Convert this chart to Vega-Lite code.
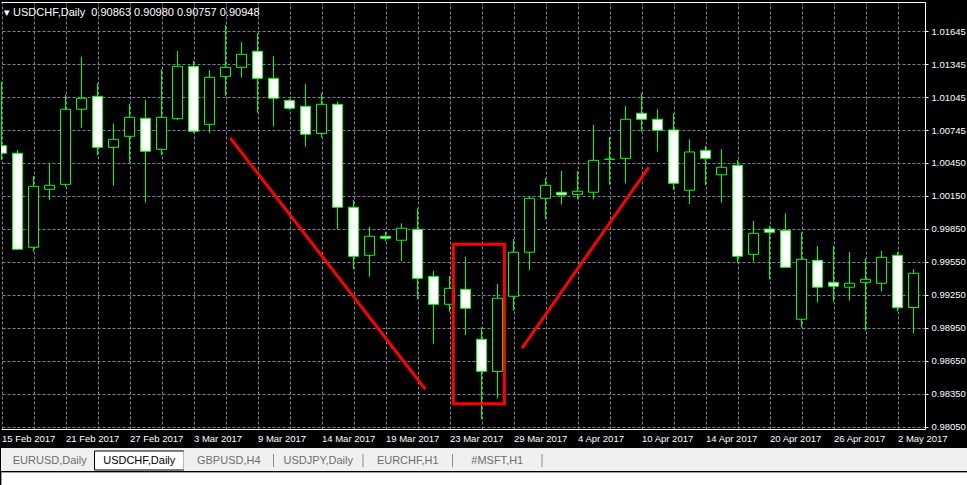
{
  "$schema": "https://vega.github.io/schema/vega-lite/v6.json",
  "background": "#000000",
  "padding": {"left": 0, "top": 2, "right": 0, "bottom": 0},
  "config": {"view": {"stroke": null}, "font": "Liberation Sans", "axis": {"labelOverlap": false}},
  "datasets": {
    "candles": [
      {"date": "2017-02-15", "open": 1.00603, "high": 1.01184, "low": 1.00473, "close": 1.00534},
      {"date": "2017-02-16", "open": 1.00534, "high": 1.00564, "low": 0.99655, "close": 0.99662},
      {"date": "2017-02-17", "open": 0.99680, "high": 1.00328, "low": 0.99640, "close": 1.00234},
      {"date": "2017-02-20", "open": 1.00207, "high": 1.00437, "low": 1.00110, "close": 1.00243},
      {"date": "2017-02-21", "open": 1.00252, "high": 1.01064, "low": 1.00230, "close": 1.00934},
      {"date": "2017-02-22", "open": 1.00934, "high": 1.01412, "low": 1.00766, "close": 1.01034},
      {"date": "2017-02-23", "open": 1.01052, "high": 1.01170, "low": 1.00518, "close": 1.00588},
      {"date": "2017-02-24", "open": 1.00588, "high": 1.00806, "low": 1.00240, "close": 1.00661},
      {"date": "2017-02-27", "open": 1.00688, "high": 1.00982, "low": 1.00449, "close": 1.00861},
      {"date": "2017-02-28", "open": 1.00852, "high": 1.01018, "low": 1.00085, "close": 1.00552},
      {"date": "2017-03-01", "open": 1.00570, "high": 1.01297, "low": 1.00516, "close": 1.00861},
      {"date": "2017-03-02", "open": 1.00848, "high": 1.01463, "low": 1.00836, "close": 1.01324},
      {"date": "2017-03-03", "open": 1.01324, "high": 1.01372, "low": 1.00718, "close": 1.00734},
      {"date": "2017-03-06", "open": 1.00797, "high": 1.01291, "low": 1.00721, "close": 1.01224},
      {"date": "2017-03-07", "open": 1.01233, "high": 1.01700, "low": 1.01054, "close": 1.01315},
      {"date": "2017-03-08", "open": 1.01315, "high": 1.01545, "low": 1.01221, "close": 1.01433},
      {"date": "2017-03-09", "open": 1.01461, "high": 1.01624, "low": 1.00903, "close": 1.01215},
      {"date": "2017-03-10", "open": 1.01215, "high": 1.01418, "low": 1.00776, "close": 1.01034},
      {"date": "2017-03-12", "open": 1.01015, "high": 1.01027, "low": 1.00927, "close": 1.00943},
      {"date": "2017-03-13", "open": 1.00961, "high": 1.01163, "low": 1.00594, "close": 1.00707},
      {"date": "2017-03-14", "open": 1.00714, "high": 1.01079, "low": 1.00679, "close": 1.00979},
      {"date": "2017-03-15", "open": 1.00979, "high": 1.01005, "low": 0.99846, "close": 1.00043},
      {"date": "2017-03-16", "open": 1.00043, "high": 1.00110, "low": 0.99480, "close": 0.99598},
      {"date": "2017-03-17", "open": 0.99607, "high": 0.99867, "low": 0.99413, "close": 0.99780},
      {"date": "2017-03-19", "open": 0.99780, "high": 0.99822, "low": 0.99737, "close": 0.99762},
      {"date": "2017-03-20", "open": 0.99744, "high": 0.99898, "low": 0.99555, "close": 0.99853},
      {"date": "2017-03-21", "open": 0.99843, "high": 1.00031, "low": 0.99207, "close": 0.99398},
      {"date": "2017-03-22", "open": 0.99416, "high": 0.99465, "low": 0.98804, "close": 0.99162},
      {"date": "2017-03-23", "open": 0.99162, "high": 0.99419, "low": 0.99095, "close": 0.99307},
      {"date": "2017-03-24", "open": 0.99298, "high": 0.99592, "low": 0.98883, "close": 0.99126},
      {"date": "2017-03-27", "open": 0.98844, "high": 0.98951, "low": 0.98117, "close": 0.98553},
      {"date": "2017-03-28", "open": 0.98552, "high": 0.99346, "low": 0.98308, "close": 0.99217},
      {"date": "2017-03-29", "open": 0.99235, "high": 0.99755, "low": 0.99104, "close": 0.99635},
      {"date": "2017-03-30", "open": 0.99635, "high": 1.00140, "low": 0.99474, "close": 1.00125},
      {"date": "2017-03-31", "open": 1.00125, "high": 1.00307, "low": 0.99934, "close": 1.00243},
      {"date": "2017-04-03", "open": 1.00180, "high": 1.00373, "low": 1.00067, "close": 1.00155},
      {"date": "2017-04-04", "open": 1.00161, "high": 1.00373, "low": 1.00116, "close": 1.00189},
      {"date": "2017-04-05", "open": 1.00180, "high": 1.00791, "low": 1.00116, "close": 1.00470},
      {"date": "2017-04-06", "open": 1.00479, "high": 1.00682, "low": 1.00248, "close": 1.00480},
      {"date": "2017-04-07", "open": 1.00488, "high": 1.00964, "low": 1.00261, "close": 1.00843},
      {"date": "2017-04-10", "open": 1.00897, "high": 1.01079, "low": 1.00730, "close": 1.00843},
      {"date": "2017-04-11", "open": 1.00843, "high": 1.00934, "low": 1.00548, "close": 1.00743},
      {"date": "2017-04-12", "open": 1.00746, "high": 1.00897, "low": 1.00200, "close": 1.00261},
      {"date": "2017-04-13", "open": 1.00198, "high": 1.00661, "low": 1.00073, "close": 1.00546},
      {"date": "2017-04-14", "open": 1.00561, "high": 1.00600, "low": 1.00246, "close": 1.00488},
      {"date": "2017-04-17", "open": 1.00339, "high": 1.00573, "low": 1.00085, "close": 1.00407},
      {"date": "2017-04-18", "open": 1.00425, "high": 1.00473, "low": 0.99535, "close": 0.99598},
      {"date": "2017-04-19", "open": 0.99616, "high": 0.99919, "low": 0.99549, "close": 0.99807},
      {"date": "2017-04-20", "open": 0.99846, "high": 0.99876, "low": 0.99389, "close": 0.99816},
      {"date": "2017-04-21", "open": 0.99834, "high": 0.99989, "low": 0.99492, "close": 0.99498},
      {"date": "2017-04-24", "open": 0.99026, "high": 0.99816, "low": 0.98953, "close": 0.99571},
      {"date": "2017-04-25", "open": 0.99562, "high": 0.99692, "low": 0.99177, "close": 0.99317},
      {"date": "2017-04-26", "open": 0.99362, "high": 0.99694, "low": 0.99186, "close": 0.99326},
      {"date": "2017-04-27", "open": 0.99317, "high": 0.99637, "low": 0.99195, "close": 0.99353},
      {"date": "2017-04-28", "open": 0.99362, "high": 0.99580, "low": 0.98922, "close": 0.99389},
      {"date": "2017-05-01", "open": 0.99353, "high": 0.99646, "low": 0.99277, "close": 0.99589},
      {"date": "2017-05-02", "open": 0.99607, "high": 0.99637, "low": 0.99098, "close": 0.99131},
      {"date": "2017-05-03", "open": 0.99133, "high": 0.99481, "low": 0.98898, "close": 0.99444}
    ],
    "trendlines": [
      {"bar_start": 14.30, "price_start": 1.00673, "bar_end": 26.49, "price_end": 0.98390},
      {"bar_start": 32.53, "price_start": 0.98762, "bar_end": 40.45, "price_end": 1.00407}
    ],
    "boxes": [
      {"bar_start": 28.24, "price_start": 0.99707, "bar_end": 31.43, "price_end": 0.98259}
    ],
    "tabs": [
      {"tab": "EURUSD,Daily", "order": 0, "selected": false},
      {"tab": "USDCHF,Daily", "order": 1, "selected": true},
      {"tab": "GBPUSD,H4", "order": 2, "selected": false},
      {"tab": "USDJPY,Daily", "order": 3, "selected": false},
      {"tab": "EURCHF,H1", "order": 4, "selected": false},
      {"tab": "#MSFT,H1", "order": 5, "selected": false}
    ]
  },
  "spacing": 5,
  "vconcat": [
    {
      "width": 924,
      "height": 427,
      "title": {
        "text": "▾ USDCHF,Daily\u00a0 0.90863 0.90980 0.90757 0.90948",
        "anchor": "start",
        "frame": "group",
        "offset": -16,
        "dx": 3,
        "color": "#ffffff",
        "font": "Liberation Sans",
        "fontSize": 11,
        "fontWeight": "normal"
      },
      "layer": [
        {
          "data": {"name": "candles"},
          "encoding": {
            "x": {
              "field": "date",
              "type": "ordinal",
              "sort": null,
              "scale": {"type": "point", "padding": 0.375, "align": 0.041667},
              "axis": {
                "orient": "bottom",
                "values": ["2017-02-15", "2017-02-21", "2017-02-27", "2017-03-03", "2017-03-09", "2017-03-14", "2017-03-19", "2017-03-23", "2017-03-29", "2017-04-04", "2017-04-10", "2017-04-14", "2017-04-20", "2017-04-26", "2017-05-02"],
                "labelExpr": "utcFormat(toDate(datum.value), '%-d %b %Y')",
                "labelAlign": "left",
                "labelBaseline": "top",
                "labelAngle": 0,
                "labelPadding": 4,
                "labelColor": "#ffffff",
                "labelFont": "Liberation Sans",
                "labelFontSize": 9.5,
                "labelOverlap": false,
                "labelFlush": false,
                "ticks": false,
                "domain": true,
                "domainColor": "#ffffff",
                "grid": false,
                "title": null
              }
            }
          },
          "layer": [
            {
              "mark": {"type": "rule", "color": "#00ff00", "strokeWidth": 1, "clip": true},
              "encoding": {
                "y": {
                  "field": "low",
                  "type": "quantitative",
                  "scale": {"domain": [0.980291, 1.019085], "nice": false, "zero": false},
                  "axis": {
                    "orient": "right",
                    "values": [0.98050, 0.98350, 0.98650, 0.98950, 0.99250, 0.99550, 0.99850, 1.00150, 1.00450, 1.00745, 1.01045, 1.01345, 1.01645],
                    "tickCount": 20,
                    "format": ".5f",
                    "labelColor": "#ffffff",
                    "labelFont": "Liberation Sans",
                    "labelFontSize": 9.5,
                    "labelPadding": 3,
                    "labelFlush": false,
                    "labelOverlap": false,
                    "tickColor": "#ffffff",
                    "tickSize": 3,
                    "domainColor": "#ffffff",
                    "grid": true,
                    "gridColor": "#778899",
                    "gridDash": [3, 2],
                    "gridOpacity": 1,
                    "title": null
                  }
                },
                "y2": {"field": "high"}
              }
            },
            {
              "mark": {"type": "bar", "width": 10, "stroke": "#00ff00", "strokeWidth": 1, "clip": true},
              "encoding": {
                "y": {"field": "open", "type": "quantitative", "scale": {"domain": [0.980291, 1.019085], "nice": false, "zero": false}},
                "y2": {"field": "close"},
                "fill": {"condition": {"test": "datum.close < datum.open", "value": "#ffffff"}, "value": "#000000"}
              }
            }
          ]
        },
        {
          "encoding": {
            "x": {
              "field": "bar_start",
              "type": "quantitative",
              "scale": {"domain": [-0.03125, 57.71875], "nice": false, "zero": false},
              "axis": {
                "orient": "top",
                "values": [0, 2, 4, 6, 8, 10, 12, 14, 16, 18, 20, 22, 24, 26, 28, 30, 32, 34, 36, 38, 40, 42, 44, 46, 48, 50, 52, 54, 56],
                "tickCount": 40,
                "labels": false,
                "ticks": false,
                "domain": true,
                "domainColor": "#ffffff",
                "grid": true,
                "gridColor": "#778899",
                "gridDash": [3, 2],
                "gridOpacity": 1,
                "title": null
              }
            },
            "x2": {"field": "bar_end"},
            "y": {"field": "price_start", "type": "quantitative", "scale": {"domain": [0.980291, 1.019085], "nice": false, "zero": false}},
            "y2": {"field": "price_end"}
          },
          "layer": [
            {"data": {"name": "trendlines"}, "mark": {"type": "rule", "color": "#ff0000", "strokeWidth": 3, "clip": true}},
            {"data": {"name": "boxes"}, "mark": {"type": "rect", "filled": false, "color": "#ff0000", "strokeWidth": 3, "clip": true}}
          ]
        }
      ],
      "resolve": {"scale": {"x": "independent"}}
    },
    {
      "spacing": 0,
      "vconcat": [
        {
          "width": 967,
          "height": 23,
          "data": {"name": "tabs"},
          "view": {"fill": "#f0f0f0", "stroke": null},
          "layer": [
            {
              "mark": {"type": "rect", "strokeWidth": 1},
              "encoding": {
                "x": {
                  "field": "tab",
                  "type": "nominal",
                  "sort": null,
                  "scale": {"type": "band", "paddingInner": 0, "paddingOuter": 0, "range": [4, 541]},
                  "axis": {"orient": "top", "labels": false, "ticks": false, "domain": false, "grid": false, "title": null}
                },
                "y": {"datum": 0.043, "type": "quantitative", "scale": {"domain": [0, 1]}, "axis": null},
                "y2": {"datum": 0.87},
                "fill": {"condition": {"test": "datum.selected", "value": "#ffffff"}, "value": "#f0f0f0"},
                "stroke": {"condition": {"test": "datum.selected", "value": "#000000"}, "value": "#f0f0f0"}
              }
            },
            {
              "mark": {"type": "rule", "color": "#8c8c8c", "strokeWidth": 1},
              "encoding": {
                "x": {"field": "tab", "type": "nominal", "sort": null, "bandPosition": 1},
                "y": {"datum": 0.174, "type": "quantitative"},
                "y2": {"datum": 0.739},
                "strokeOpacity": {"condition": {"test": "datum.order >= 2", "value": 1}, "value": 0}
              }
            },
            {
              "mark": {"type": "text", "font": "Liberation Sans", "fontSize": 11, "dy": 1},
              "encoding": {
                "x": {"field": "tab", "type": "nominal", "sort": null},
                "text": {"field": "tab"},
                "color": {"condition": {"test": "datum.selected", "value": "#000000"}, "value": "#6d6d6d"}
              }
            }
          ]
        },
        {
          "width": 967,
          "height": 13,
          "data": {"values": []},
          "view": {"fill": "#ffffff", "stroke": "#a0a0a0"},
          "mark": "rect"
        }
      ]
    }
  ]
}
